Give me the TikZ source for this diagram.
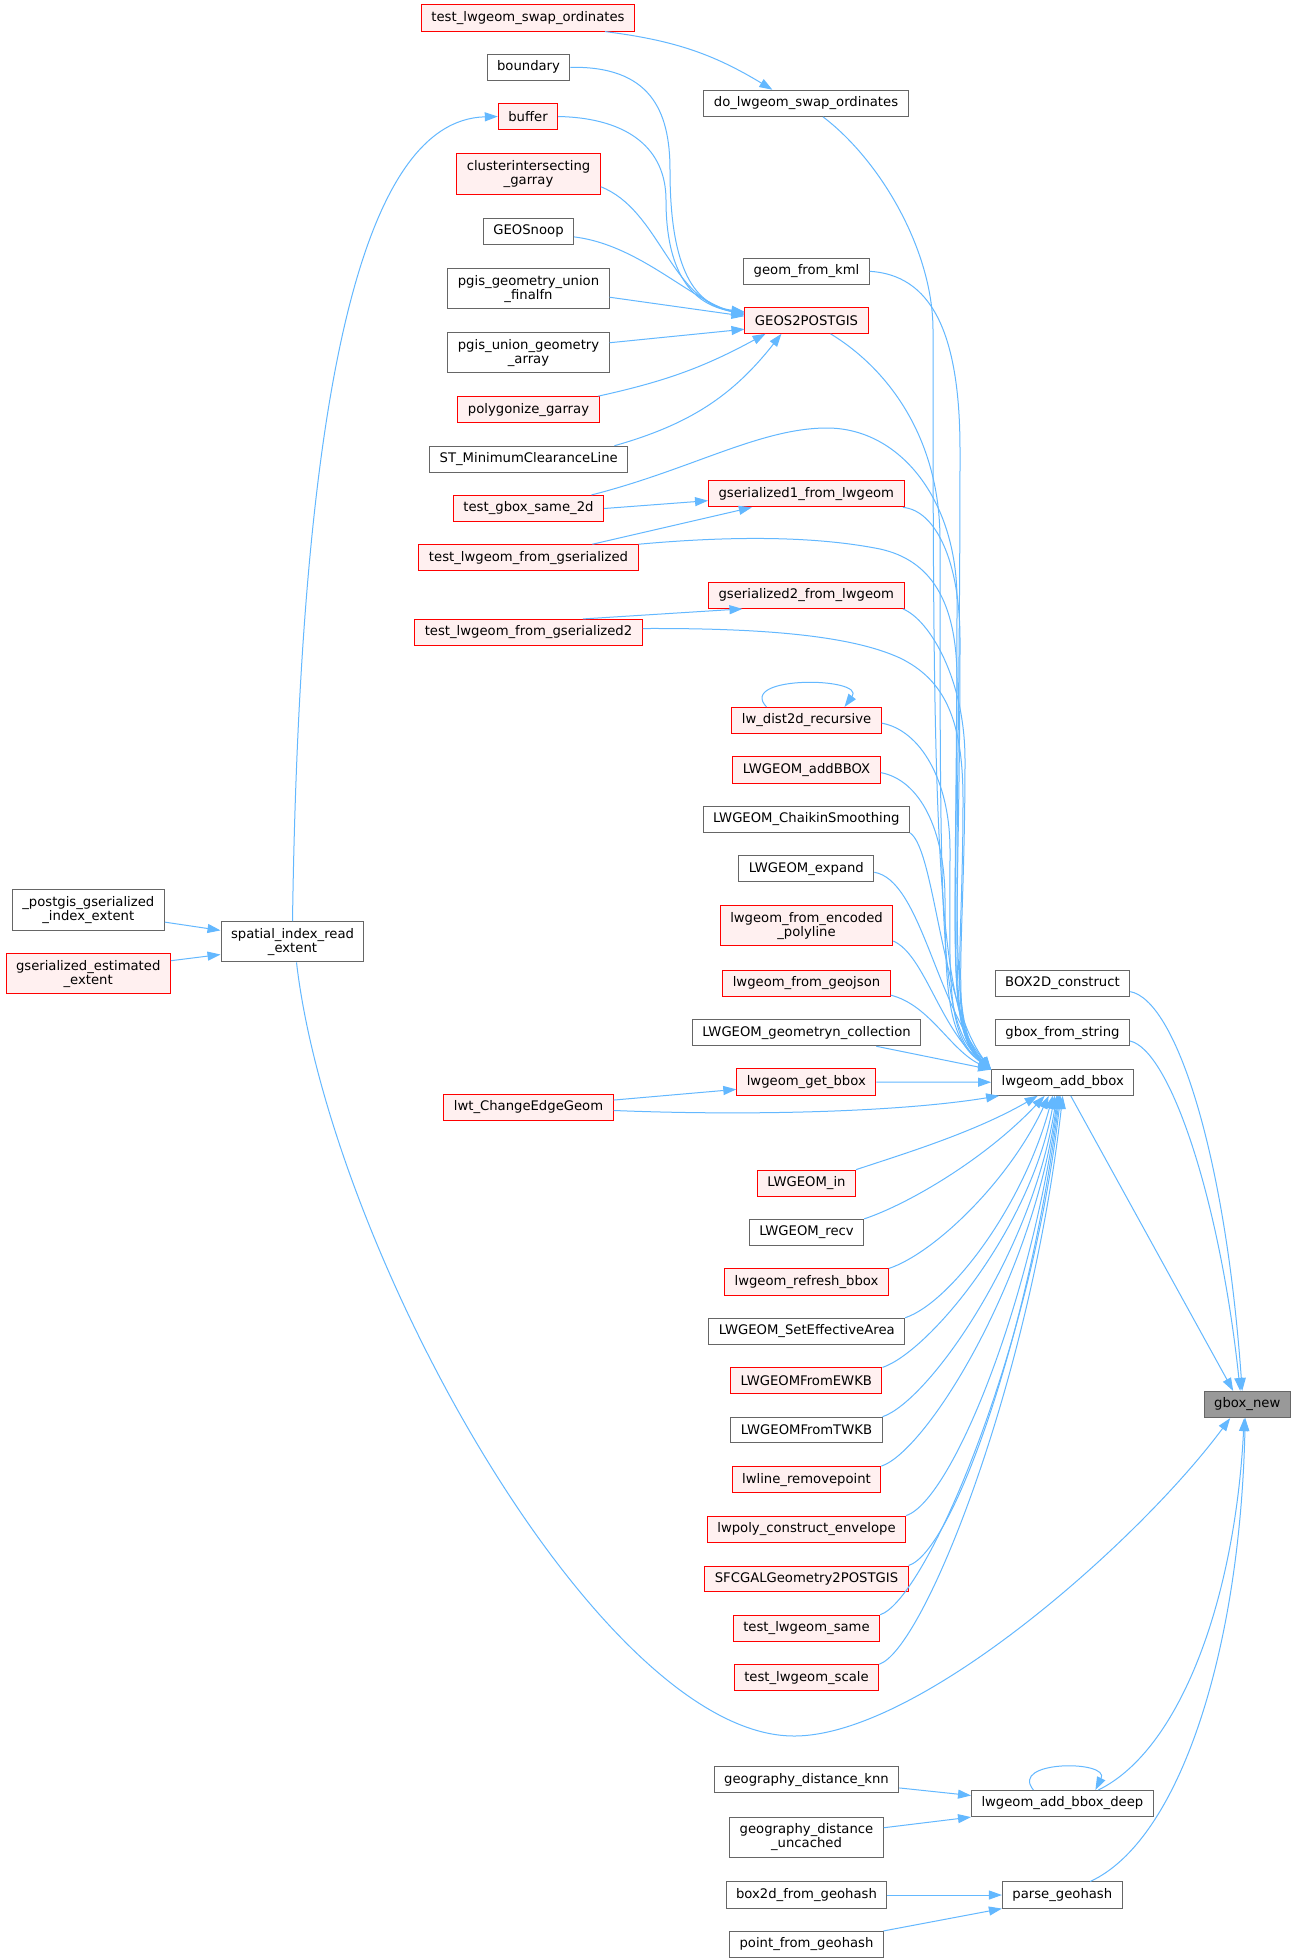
\documentclass[tikz,border=0pt]{standalone}
\usepackage{fontspec}
\setmainfont{DejaVu Sans}
\usetikzlibrary{arrows.meta}
\definecolor{edgeblue}{HTML}{63B8FF}
\definecolor{truncfill}{HTML}{FFF0F0}
\definecolor{boxgray}{HTML}{666666}
\definecolor{focusfill}{HTML}{999999}

\begin{document}
\begin{tikzpicture}[x=1pt,y=-1pt,
		func/.style={draw=boxgray,fill=white,line width=1pt,font=\fontsize{13.2}{14}\selectfont,align=center,inner xsep=10pt,inner ysep=6.5pt,minimum height=25.6pt},
		trunc/.style={func,draw=red,fill=truncfill},
		focus/.style={func,fill=focusfill},
		call/.style={draw=edgeblue,line width=1pt,-{Triangle[length=13pt,width=9pt]}}]
		\useasboundingbox[fill=white] (0,0) rectangle (1293,1960);
		\node[func] (pgidx) at (88.3,910) {\_postgis\_gserialized\\\_index\_extent};
		\node[trunc] (gsest) at (88.2,973.8) {gserialized\_estimated\\\_extent};
		\node[func] (spidx) at (292.5,941.8) {spatial\_index\_read\\\_extent};
		\node[trunc] (tswap) at (528,18) {test\_lwgeom\_swap\_ordinates};
		\node[func] (boundary) at (528.5,67.3) {boundary};
		\node[trunc] (buffer) at (528,116.5) {buffer};
		\node[trunc] (clint) at (528.5,174) {clusterintersecting\\\_garray};
		\node[func] (geosnoop) at (528.5,231.3) {GEOSnoop};
		\node[func] (pgunion) at (528.5,288.7) {pgis\_geometry\_union\\\_finalfn};
		\node[func] (pgarray) at (528.5,352.7) {pgis\_union\_geometry\\\_array};
		\node[trunc] (polyg) at (528.5,409.7) {polygonize\_garray};
		\node[func] (stmin) at (528.7,459.3) {ST\_MinimumClearanceLine};
		\node[trunc] (tgbox) at (528.5,508.5) {test\_gbox\_same\_2d};
		\node[trunc] (tfrom) at (528.5,557.8) {test\_lwgeom\_from\_gserialized};
		\node[trunc] (tfromb) at (528.5,632.5) {test\_lwgeom\_from\_gserialized2};
		\node[trunc] (lwtchg) at (528.5,1107.5) {lwt\_ChangeEdgeGeom};
		\node[func] (doswap) at (806,103.3) {do\_lwgeom\_swap\_ordinates};
		\node[func] (kml) at (806.5,271.3) {geom\_from\_kml};
		\node[trunc] (geos) at (806.5,320.5) {GEOS2POSTGIS};
		\node[trunc] (gserone) at (806.3,493.8) {gserialized1\_from\_lwgeom};
		\node[trunc] (gsertwo) at (806.3,595.3) {gserialized2\_from\_lwgeom};
		\node[trunc] (dist2d) at (806.5,720.5) {lw\_dist2d\_recursive};
		\node[trunc] (addbboxup) at (806.5,770) {LWGEOM\_addBBOX};
		\node[func] (chaikin) at (806.3,819.3) {LWGEOM\_ChaikinSmoothing};
		\node[func] (expand) at (806.3,868.7) {LWGEOM\_expand};
		\node[trunc] (polyline) at (806.5,925.7) {lwgeom\_from\_encoded\\\_polyline};
		\node[trunc] (geojson) at (806.5,983.3) {lwgeom\_from\_geojson};
		\node[func] (geomn) at (806.5,1032.7) {LWGEOM\_geometryn\_collection};
		\node[trunc] (getbbox) at (806.3,1082) {lwgeom\_get\_bbox};
		\node[trunc] (lwin) at (806.5,1183.2) {LWGEOM\_in};
		\node[func] (recv) at (806.5,1232.3) {LWGEOM\_recv};
		\node[trunc] (refresh) at (806.5,1282) {lwgeom\_refresh\_bbox};
		\node[func] (effarea) at (806.8,1331.3) {LWGEOM\_SetEffectiveArea};
		\node[trunc] (ewkb) at (806.3,1380.7) {LWGEOMFromEWKB};
		\node[func] (twkb) at (806.5,1430) {LWGEOMFromTWKB};
		\node[trunc] (rmpoint) at (806.5,1479.7) {lwline\_removepoint};
		\node[trunc] (envelope) at (806.5,1529.2) {lwpoly\_construct\_envelope};
		\node[trunc] (sfcgal) at (806.5,1578.8) {SFCGALGeometry2POSTGIS};
		\node[trunc] (tsame) at (806.5,1628.3) {test\_lwgeom\_same};
		\node[trunc] (tscale) at (806.5,1677.8) {test\_lwgeom\_scale};
		\node[func] (knn) at (806.5,1779.8) {geography\_distance\_knn};
		\node[func] (uncached) at (806.5,1837.2) {geography\_distance\\\_uncached};
		\node[func] (boxgeo) at (806.5,1895) {box2d\_from\_geohash};
		\node[func] (ptgeo) at (806.5,1944.5) {point\_from\_geohash};
		\node[func] (box2d) at (1062.5,983.3) {BOX2D\_construct};
		\node[func] (gfromstr) at (1062.5,1032.7) {gbox\_from\_string};
		\node[func] (addbbox) at (1062.7,1082.2) {lwgeom\_add\_bbox};
		\node[func] (deep) at (1062.4,1803.5) {lwgeom\_add\_bbox\_deep};
		\node[func] (geohash) at (1062.3,1895) {parse\_geohash};
		\node[focus] (gboxnew) at (1247.2,1404.5) {gbox\_new};

		\draw[call] (pgidx.-9) -- (spidx.171);
		\draw[call] (gsest.9) -- (spidx.190);
		\draw[call] (spidx.north) .. controls (300,400) and (360,120) .. (buffer.west);
		\draw[call] ([xshift=4]spidx.south) .. controls (330,1250) and (600,1736) .. (794,1736) .. controls (920,1736) and (1140,1540) .. ([xshift=-17]gboxnew.south);
		\draw[call] (tswap.-10) to[bend left=12] (doswap.158);
		\draw[call] (boundary.east) .. controls (650,66) and (670,110) .. (670,170) .. controls (670,260) and (690,305) .. (geos.172);
		\draw[call] (buffer.east) .. controls (630,118) and (666,150) .. (666,200) .. controls (666,270) and (690,305) .. (geos.173);
		\draw[call] (clint.-10) .. controls (660,210) and (670,300) .. (geos.174);
		\draw[call] (geosnoop.-7) .. controls (640,245) and (690,300) .. (geos.175);
		\draw[call] (pgunion.-6) -- (geos.176);
		\draw[call] (pgarray.7) -- (geos.188);
		\draw[call] (polyg.11) to[bend right=8] (geos.198);
		\draw[call] (stmin.9) to[bend right=18] (geos.208);
		\draw[call] (tgbox.east) -- (gserone.184);
		\draw[call] (tfrom.12) -- (gserone.194);
		\draw[call] (tfromb.14) -- (gsertwo.192);
		\draw[call] (lwtchg.5) -- (getbbox.186);
		\draw[call] ([xshift=-40]dist2d.north) .. controls +(-30,-32) and +(22,-30) .. ([xshift=38]dist2d.north);
		\draw[call] ([xshift=17]doswap.south) .. controls (880,160) and (933,250) .. (933,330) .. controls (933,800) and (935,1010) .. (addbbox.170);
		\draw[call] (kml.east) .. controls (930,275) and (960,330) .. (960,450) .. controls (960,900) and (945,1025) .. (addbbox.170);
		\draw[call] ([xshift=24]geos.south) .. controls (890,370) and (940,440) .. (940,540) .. controls (940,950) and (940,1025) .. (addbbox.170);
		\draw[call] ([xshift=63]tgbox.north) .. controls (690,470) and (760,428) .. (827,428) .. controls (900,428) and (957,500) .. (957,600) .. controls (957,950) and (945,1030) .. (addbbox.170);
		\draw[call] (tfrom.north east) .. controls (740,535) and (820,537) .. (880,549) .. controls (930,560) and (957,600) .. (957,680) .. controls (957,950) and (945,1030) .. (addbbox.170);
		\draw[call] (gserone.-8) .. controls (935,510) and (960,560) .. (960,640) .. controls (960,950) and (945,1030) .. (addbbox.170);
		\draw[call] (tfromb.2) .. controls (760,628) and (850,635) .. (900,658) .. controls (945,680) and (963,720) .. (963,800) .. controls (963,960) and (948,1030) .. (addbbox.170);
		\draw[call] (gsertwo.-8) .. controls (930,620) and (965,680) .. (965,760) .. controls (965,960) and (948,1030) .. (addbbox.170);
		\draw[call] (dist2d.-2) .. controls (920,730) and (950,780) .. (950,850) .. controls (950,980) and (945,1035) .. (addbbox.170);
		\draw[call] (addbboxup.-2) .. controls (920,780) and (945,830) .. (945,900) .. controls (945,1000) and (950,1040) .. (addbbox.170);
		\draw[call] (chaikin.south east) .. controls (935,850) and (940,1000) .. (addbbox.170);
		\draw[call] (expand.-3) .. controls (920,880) and (935,1000) .. (addbbox.170);
		\draw[call] (polyline.-10) .. controls (925,955) and (940,1030) .. (addbbox.170);
		\draw[call] (geojson.-8) .. controls (930,1005) and (950,1050) .. (addbbox.170);
		\draw[call] (geomn.-11) -- (addbbox.170);
		\draw[call] (getbbox.east) -- (addbbox.west);
		\draw[call] (lwtchg.-2) .. controls (750,1116) and (900,1112) .. ([xshift=8]addbbox.south west);
		\draw[call] (lwin.north east) .. controls +(45,-15) and +(-64,37) .. ([xshift=-25]addbbox.south);
		\draw[call] (recv.north east) .. controls +(45,-15) and +(-58,62) .. ([xshift=-18]addbbox.south);
		\draw[call] (refresh.north east) .. controls +(45,-15) and +(-40,86) .. ([xshift=-14]addbbox.south);
		\draw[call] (effarea.north east) .. controls +(45,-15) and +(-30,111) .. ([xshift=-10]addbbox.south);
		\draw[call] (ewkb.north east) .. controls +(45,-15) and +(-25,136) .. ([xshift=-8]addbbox.south);
		\draw[call] (twkb.north east) .. controls +(45,-15) and +(-25,160) .. ([xshift=-6]addbbox.south);
		\draw[call] (rmpoint.north east) .. controls +(45,-15) and +(-25,185) .. ([xshift=-5]addbbox.south);
		\draw[call] (envelope.north east) .. controls +(45,-15) and +(-28,210) .. ([xshift=-4]addbbox.south);
		\draw[call] (sfcgal.north east) .. controls +(45,-15) and +(-30,235) .. ([xshift=-3]addbbox.south);
		\draw[call] (tsame.north east) .. controls +(45,-15) and +(-30,260) .. ([xshift=-2]addbbox.south);
		\draw[call] (tscale.north east) .. controls +(45,-15) and +(-32,284) .. (addbbox.south);
		\draw[call] (box2d.-7) .. controls (1175,1000) and (1225,1150) .. ([xshift=-5]gboxnew.north);
		\draw[call] (gfromstr.-7) .. controls (1170,1050) and (1220,1200) .. ([xshift=-7]gboxnew.north);
		\draw[call] ([xshift=8]addbbox.south) -- ([xshift=-14]gboxnew.north);
		\draw[call] (knn.-5) -- (deep.175);
		\draw[call] (uncached.7) -- (deep.south west);
		\draw[call] ([xshift=-29]deep.north) .. controls +(-25,-30) and +(15,-30) .. ([xshift=33]deep.north);
		\draw[call] ([xshift=36]deep.north) .. controls (1180,1750) and (1235,1600) .. ([xshift=-3]gboxnew.south);
		\draw[call] (boxgeo.east) -- (geohash.west);
		\draw[call] (ptgeo.10) -- (geohash.south west);
		\draw[call] ([xshift=28]geohash.north) .. controls (1180,1840) and (1240,1650) .. ([xshift=-2]gboxnew.south);
\end{tikzpicture}
\end{document}
